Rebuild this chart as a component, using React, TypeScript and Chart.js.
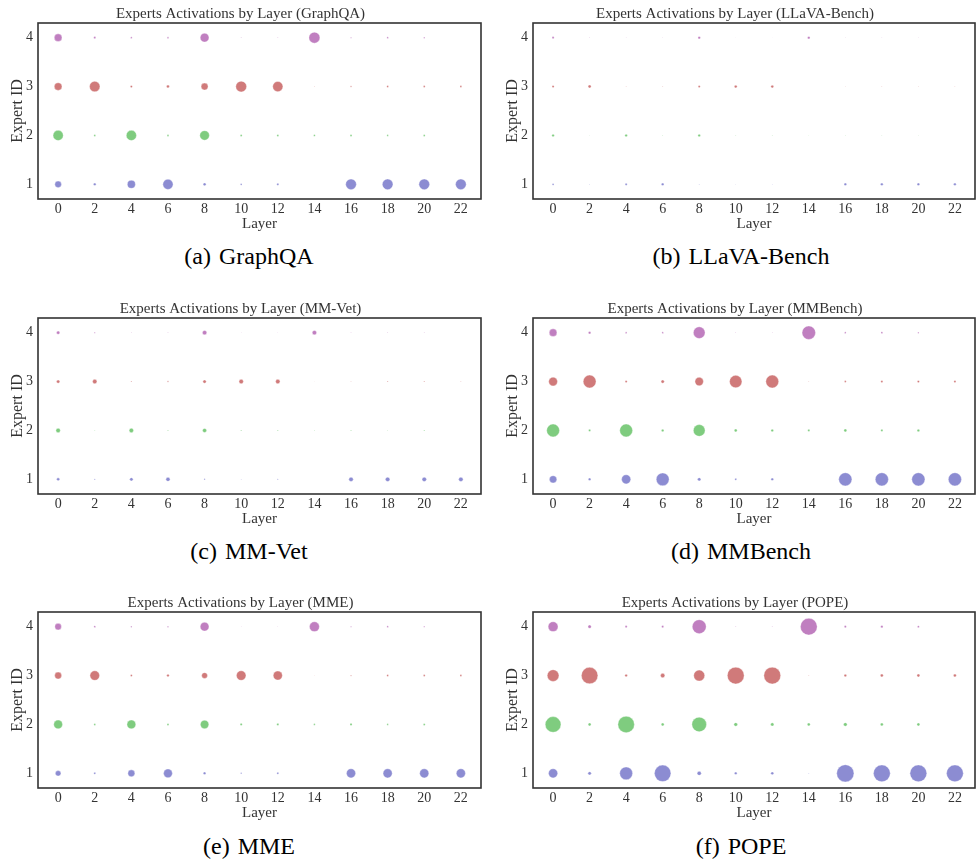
import React, { useEffect, useRef } from "react";
import { Chart, registerables } from "chart.js";

Chart.register(...registerables);

// ---------- data ----------
const layers = [0, 2, 4, 6, 8, 10, 12, 14, 16, 18, 20, 22];
const expertIds = [1, 2, 3, 4];
const expertColors = ["#8c8cd2", "#7fcc7f", "#d07a7a", "#c07fc0"];
const yTicks = [1, 2, 3, 4];

// activation values per expert (area-proportional), one entry per layer
const graphqaE1 = [36, 5.3, 53, 86, 6.8, 2.6, 4, 0, 94, 94, 94, 94];
const graphqaE2 = [86, 2.9, 86, 2.9, 76, 3.2, 3.2, 2.6, 3.2, 2.3, 2.9, 0];
const graphqaE3 = [49, 90, 4, 6.8, 40, 96, 86, 0.4, 1.7, 2.9, 2.9, 2.9];
const graphqaE4 = [49, 4, 2.3, 2.3, 64, 0.6, 0.6, 100, 1, 2.3, 1.7, 0];

const llavaE1 = [2.9, 0.5, 4, 5.3, 0.6, 0.25, 0.36, 0, 5.3, 5.3, 5.3, 5.3];
const llavaE2 = [5.3, 0.25, 5.3, 0.5, 5.3, 0.5, 0.5, 0.25, 0.36, 0.25, 0.25, 0];
const llavaE3 = [4, 7.3, 0.5, 0.6, 4, 6.3, 6.3, 0, 0.25, 0.36, 0.36, 0.36];
const llavaE4 = [4, 0.36, 0.25, 0.25, 5.3, 0.1, 0.1, 5.3, 0.16, 0.25, 0.25, 0];

const mmvetE1 = [7.3, 1.4, 9, 13.7, 1.7, 0.6, 1, 0, 16, 16, 16, 16];
const mmvetE2 = [16, 0.6, 16, 1, 13.7, 1, 1, 0.6, 1, 0.5, 1, 0];
const mmvetE3 = [9, 16, 1, 1.7, 9, 16, 16, 0.1, 0.36, 1, 1, 0.6];
const mmvetE4 = [9, 1, 0.5, 0.5, 16, 0.16, 0.16, 16, 0.36, 0.6, 0.5, 0];

const mmbenchE1 = [45, 5.3, 69, 137, 9, 3.2, 5.3, 0, 144, 144, 144, 144];
const mmbenchE2 = [137, 4, 137, 5.3, 114, 6.8, 5.3, 4, 6.8, 4, 5.3, 0];
const mmbenchE3 = [64, 137, 4, 9, 59, 128, 137, 0.4, 2.9, 4, 4, 4];
const mmbenchE4 = [49, 5.3, 2.3, 2.3, 114, 0.4, 0.4, 151, 2.3, 2.9, 1.7, 0];

const mmeE1 = [25, 3.2, 40, 64, 5.3, 1.7, 3.2, 0, 69, 69, 69, 69];
const mmeE2 = [64, 2.9, 64, 3.2, 59, 4, 4, 2.3, 4, 2.3, 3.2, 0];
const mmeE3 = [40, 76, 3.2, 5.3, 28, 76, 69, 0.16, 1.4, 2.9, 2.9, 2.9];
const mmeE4 = [36, 2.9, 1.7, 1.7, 64, 0.25, 0.25, 81, 1, 2.3, 1.4, 0];

const popeE1 = [69, 9, 137, 225, 13.7, 5.3, 6.8, 0.6, 246, 234, 234, 234];
const popeE2 = [204, 6.8, 225, 6.8, 177, 10.9, 9, 6.8, 10.9, 6.8, 6.8, 0];
const popeE3 = [114, 225, 5.3, 16, 100, 234, 234, 0.6, 5.3, 6.8, 6.8, 6.8];
const popeE4 = [81, 9, 4, 4, 161, 0.6, 0.6, 234, 4, 4.8, 3.2, 0];

const panelNames = ["GraphQA", "LLaVA-Bench", "MM-Vet", "MMBench", "MME", "POPE"];
const panelLetters = ["a", "b", "c", "d", "e", "f"];
const panelValues = [
  [graphqaE1, graphqaE2, graphqaE3, graphqaE4],
  [llavaE1, llavaE2, llavaE3, llavaE4],
  [mmvetE1, mmvetE2, mmvetE3, mmvetE4],
  [mmbenchE1, mmbenchE2, mmbenchE3, mmbenchE4],
  [mmeE1, mmeE2, mmeE3, mmeE4],
  [popeE1, popeE2, popeE3, popeE4],
];

// ---------- styling ----------
const SERIF = "'Liberation Serif', 'Times New Roman', serif";
const TEXT = "#333333";
const R_SCALE = 0.55;
const CANVAS_H = 235;
const colLeft = [0, 495];
const colWidth = [482, 481];
const rowTop = [0, 295, 589];
const captionCenterX = [249, 741];
const captionCenterY = [256, 551, 846];

const frame = {
  id: "frame",
  afterDraw(chart: any) {
    const { left, top, right, bottom } = chart.chartArea;
    const ctx = chart.ctx;
    ctx.save();
    ctx.strokeStyle = "#333333";
    ctx.lineWidth = 1.6;
    ctx.strokeRect(left, top, right - left, bottom - top);
    ctx.restore();
  },
};

function Panel({ idx }: { idx: number }) {
  const ref = useRef<HTMLCanvasElement | null>(null);
  const col = idx % 2;
  const row = Math.floor(idx / 2);
  useEffect(() => {
    if (!ref.current) return;
    const values = panelValues[idx];
    const chart = new Chart(ref.current, {
      type: "bubble",
      data: {
        datasets: expertIds.map((id, e) => ({
          label: "Expert " + id,
          data: layers.map((l, i) => ({ x: l, y: id, r: Math.sqrt(values[e][i]) * R_SCALE })),
          backgroundColor: expertColors[e],
          borderColor: "rgba(255,255,255,0.7)",
          borderWidth: 0.5,
        })),
      },
      options: {
        animation: false,
        responsive: false,
        maintainAspectRatio: false,
        devicePixelRatio: 1,
        layout: { autoPadding: false, padding: { left: 0, right: 1, top: 0, bottom: 0 } },
        plugins: {
          legend: { display: false },
          tooltip: { enabled: false },
          title: {
            display: true,
            text: "Experts Activations by Layer (" + panelNames[idx] + ")",
            color: TEXT,
            font: { family: SERIF, size: 15, weight: "normal" },
            padding: { top: 5, bottom: 0 },
          },
        },
        scales: {
          x: {
            type: "linear",
            min: -1.1,
            max: 23.1,
            afterBuildTicks: (s: any) => {
              s.ticks = layers.map((v) => ({ value: v }));
            },
            afterFit: (s: any) => {
              s.height = 36;
              s.paddingLeft = 0;
              s.paddingRight = 0;
            },
            grid: { display: false, drawTicks: false },
            border: { display: false },
            ticks: { color: TEXT, font: { family: SERIF, size: 14 }, padding: 2, autoSkip: false, maxRotation: 0 },
            title: {
              display: true,
              text: "Layer",
              color: TEXT,
              font: { family: SERIF, size: 15 },
              padding: { top: 0, bottom: 2 },
            },
          },
          y: {
            type: "linear",
            min: 0.7,
            max: 4.3,
            afterBuildTicks: (s: any) => {
              s.ticks = yTicks.map((v) => ({ value: v }));
            },
            afterFit: (s: any) => {
              s.width = 38;
              s.paddingTop = 0;
              s.paddingBottom = 0;
            },
            grid: { display: false, drawTicks: false },
            border: { display: false },
            ticks: { color: TEXT, font: { family: SERIF, size: 14 }, padding: 5 },
            title: {
              display: true,
              text: "Expert ID",
              color: TEXT,
              font: { family: SERIF, size: 16 },
              padding: { top: 8, bottom: 0 },
            },
          },
        },
      },
      plugins: [frame],
    } as any);
    return () => chart.destroy();
  }, [idx]);
  return (
    <canvas
      ref={ref}
      width={colWidth[col]}
      height={CANVAS_H}
      style={{ position: "absolute", left: colLeft[col], top: rowTop[row], width: colWidth[col], height: CANVAS_H }}
    />
  );
}

export default function App() {
  return (
    <div style={{ position: "fixed", left: 0, top: 0, width: 976, height: 863, background: "#fff", overflow: "hidden" }}>
      {panelNames.map((_, i) => (
        <Panel key={i} idx={i} />
      ))}
      {panelNames.map((name, i) => (
        <div
          key={"c" + i}
          style={{
            position: "absolute",
            left: captionCenterX[i % 2] - 200,
            width: 400,
            top: captionCenterY[Math.floor(i / 2)] - 14,
            height: 28,
            lineHeight: "28px",
            textAlign: "center",
            fontFamily: SERIF,
            fontSize: 24,
            color: "#000",
            wordSpacing: 2,
          }}
        >
          {"(" + panelLetters[i] + ") " + name}
        </div>
      ))}
    </div>
  );
}
